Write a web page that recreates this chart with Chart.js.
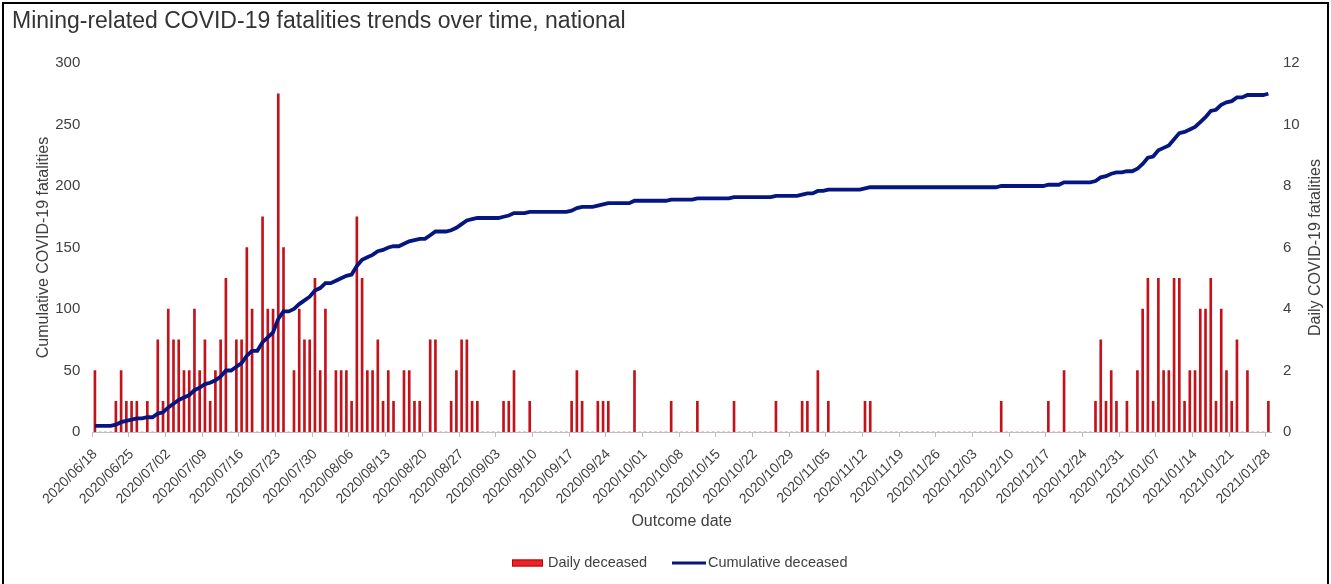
<!DOCTYPE html>
<html>
<head>
<meta charset="utf-8">
<title>Mining-related COVID-19 fatalities</title>
<script src="https://cdn.jsdelivr.net/npm/chart.js@4.4.1/dist/chart.umd.min.js"></script>
<style>
  html, body { margin: 0; padding: 0; background: #fff; }
  #chart { display: block; }
</style>
</head>
<body>
<canvas id="chart" width="1331" height="584"></canvas>
<script>
// ---------------- DATA ----------------
const startDate = "2020-06-18";
const dayCount = 225;

// daily deceased (right axis), one value per day from 2020/06/18
const dailyDeceased = [
  2, 0, 0, 0, 1, 2, 1, 1, 1, 0,
  1, 0, 3, 1, 4, 3, 3, 2, 2, 4,
  2, 3, 1, 2, 3, 5, 0, 3, 3, 6,
  4, 0, 7, 4, 4, 11, 6, 0, 2, 4,
  3, 3, 5, 2, 4, 0, 2, 2, 2, 1,
  7, 5, 2, 2, 3, 1, 2, 1, 0, 2,
  2, 1, 1, 0, 3, 3, 0, 0, 1, 2,
  3, 3, 1, 1, 0, 0, 0, 0, 1, 1,
  2, 0, 0, 1, 0, 0, 0, 0, 0, 0,
  0, 1, 2, 1, 0, 0, 1, 1, 1, 0,
  0, 0, 0, 2, 0, 0, 0, 0, 0, 0,
  1, 0, 0, 0, 0, 1, 0, 0, 0, 0,
  0, 0, 1, 0, 0, 0, 0, 0, 0, 0,
  1, 0, 0, 0, 0, 1, 1, 0, 2, 0,
  1, 0, 0, 0, 0, 0, 0, 1, 1, 0,
  0, 0, 0, 0, 0, 0, 0, 0, 0, 0,
  0, 0, 0, 0, 0, 0, 0, 0, 0, 0,
  0, 0, 0, 1, 0, 0, 0, 0, 0, 0,
  0, 0, 1, 0, 0, 2, 0, 0, 0, 0,
  0, 1, 3, 1, 2, 1, 0, 1, 0, 2,
  4, 5, 1, 5, 2, 2, 5, 5, 1, 2,
  2, 4, 4, 5, 1, 4, 2, 1, 3, 0,
  2, 0, 0, 0, 1
];

// cumulative deceased (left axis)
const cumulativeDeceased = [
  5, 5, 5, 5, 6, 8, 9, 10, 11, 11,
  12, 12, 15, 16, 20, 23, 26, 28, 30, 34,
  36, 39, 40, 42, 45, 50, 50, 53, 56, 62,
  66, 66, 73, 77, 81, 92, 98, 98, 100, 104,
  107, 110, 115, 117, 121, 121, 123, 125, 127, 128,
  135, 140, 142, 144, 147, 148, 150, 151, 151, 153,
  155, 156, 157, 157, 160, 163, 163, 163, 164, 166,
  169, 172, 173, 174, 174, 174, 174, 174, 175, 176,
  178, 178, 178, 179, 179, 179, 179, 179, 179, 179,
  179, 180, 182, 183, 183, 183, 184, 185, 186, 186,
  186, 186, 186, 188, 188, 188, 188, 188, 188, 188,
  189, 189, 189, 189, 189, 190, 190, 190, 190, 190,
  190, 190, 191, 191, 191, 191, 191, 191, 191, 191,
  192, 192, 192, 192, 192, 193, 194, 194, 196, 196,
  197, 197, 197, 197, 197, 197, 197, 198, 199, 199,
  199, 199, 199, 199, 199, 199, 199, 199, 199, 199,
  199, 199, 199, 199, 199, 199, 199, 199, 199, 199,
  199, 199, 199, 200, 200, 200, 200, 200, 200, 200,
  200, 200, 201, 201, 201, 203, 203, 203, 203, 203,
  203, 204, 207, 208, 210, 211, 211, 212, 212, 214,
  218, 223, 224, 229, 231, 233, 238, 243, 244, 246,
  248, 252, 256, 261, 262, 266, 268, 269, 272, 272,
  274, 274, 274, 274, 275
];

const leftTicks = [0, 50, 100, 150, 200, 250, 300];
const rightTicks = [0, 2, 4, 6, 8, 10, 12];
const labelEvery = 7; // a date label every week

// ---------------- HELPERS ----------------
function buildDates(start, count) {
  const out = [];
  const d = new Date(start + "T00:00:00Z");
  for (let i = 0; i < count; i++) {
    const y = d.getUTCFullYear();
    const m = String(d.getUTCMonth() + 1).padStart(2, "0");
    const day = String(d.getUTCDate()).padStart(2, "0");
    out.push(`${y}/${m}/${day}`);
    d.setUTCDate(d.getUTCDate() + 1);
  }
  return out;
}

const dates = buildDates(startDate, dayCount);

const FONT = "'Liberation Sans', Arial, sans-serif";
const TEXT = "#404040";
const AXIS = "#bfbfbf";
const BAR_RED = "#c4121b";
const LINE_BLUE = "#061680";

Chart.defaults.font.family = FONT;
Chart.defaults.color = TEXT;

// frame, right axis title (reads bottom to top) and legend
const extras = {
  id: "extras",
  afterDraw(chart) {
    const { ctx, chartArea } = chart;
    ctx.save();

    // frame
    ctx.strokeStyle = "#000";
    ctx.lineWidth = 2;
    ctx.strokeRect(3, 3, 1325, 610);

    // right axis title
    ctx.fillStyle = TEXT;
    ctx.font = "16px " + FONT;
    ctx.textAlign = "center";
    ctx.textBaseline = "middle";
    ctx.translate(1316, (chartArea.top + chartArea.bottom) / 2);
    ctx.rotate(-Math.PI / 2);
    ctx.fillText("Daily COVID-19 fatalities", 0, 0);
    ctx.setTransform(1, 0, 0, 1, 0, 0);

    // legend
    const ly = 563;
    const ds = chart.data.datasets;
    ctx.font = "14.5px " + FONT;
    ctx.textAlign = "left";
    ctx.fillStyle = "#e8242b";
    ctx.fillRect(512, ly - 3.5, 31, 7);
    ctx.strokeStyle = "#c00000";
    ctx.lineWidth = 1;
    ctx.strokeRect(512.5, ly - 3, 30, 6);
    ctx.fillStyle = TEXT;
    ctx.fillText(ds[1].label, 548, ly);

    ctx.strokeStyle = LINE_BLUE;
    ctx.lineWidth = 3;
    ctx.beginPath();
    ctx.moveTo(672, ly);
    ctx.lineTo(706, ly);
    ctx.stroke();
    ctx.fillText(ds[0].label, 708, ly);

    ctx.restore();
  }
};

// ---------------- CHART ----------------
const ctx = document.getElementById("chart");

new Chart(ctx, {
  type: "bar",
  data: {
    labels: dates,
    datasets: [
      {
        type: "line",
        label: "Cumulative deceased",
        data: cumulativeDeceased,
        yAxisID: "y",
        borderColor: LINE_BLUE,
        backgroundColor: LINE_BLUE,
        borderWidth: 3.8,
        pointRadius: 0,
        tension: 0,
        order: 0
      },
      {
        type: "bar",
        label: "Daily deceased",
        data: dailyDeceased,
        yAxisID: "y1",
        backgroundColor: BAR_RED,
        barThickness: 2,
        order: 1
      }
    ]
  },
  options: {
    responsive: false,
    animation: false,
    devicePixelRatio: 1,
    layout: { padding: { left: 12, right: 0, top: 0, bottom: 44 } },
    plugins: {
      legend: { display: false },
      tooltip: { enabled: false },
      title: {
        display: true,
        text: "Mining-related COVID-19 fatalities trends over time, national",
        align: "start",
        color: "#333",
        font: { size: 23, weight: "normal" },
        padding: { top: 8, bottom: 27.4 }
      }
    },
    scales: {
      x: {
        offset: true,
        grid: {
          offset: true,
          drawOnChartArea: false,
          tickLength: 5,
          color: c => (c.index % labelEvery === 0 ? AXIS : "rgba(0,0,0,0)")
        },
        border: { color: AXIS, width: 1 },
        ticks: {
          autoSkip: false,
          minRotation: 45,
          maxRotation: 45,
          padding: 9,
          color: TEXT,
          font: { size: 14 },
          callback: (v, i) => (i % labelEvery === 0 ? dates[i] : "")
        },
        title: {
          display: true,
          text: "Outcome date",
          color: TEXT,
          font: { size: 16 },
          padding: { top: 0, bottom: 9 }
        },
        afterFit: s => { s.height = 108; }
      },
      y: {
        position: "left",
        min: 0,
        max: 300,
        grid: { display: false, drawTicks: false },
        border: { display: false },
        ticks: { stepSize: 50, padding: 12, color: TEXT, font: { size: 15 } },
        afterBuildTicks: s => { s.ticks = leftTicks.map(v => ({ value: v })); },
        title: {
          display: true,
          text: "Cumulative COVID-19 fatalities",
          color: TEXT,
          font: { size: 16 },
          padding: { top: 22, bottom: 0 }
        },
        afterFit: s => { s.width = 80.3; }
      },
      y1: {
        position: "right",
        min: 0,
        max: 12,
        grid: { display: false, drawTicks: false },
        border: { display: false },
        ticks: { stepSize: 2, padding: 12, color: TEXT, font: { size: 15 } },
        afterBuildTicks: s => { s.ticks = rightTicks.map(v => ({ value: v })); },
        afterFit: s => { s.width = 60; }
      }
    }
  },
  plugins: [extras]
});
</script>
</body>
</html>
